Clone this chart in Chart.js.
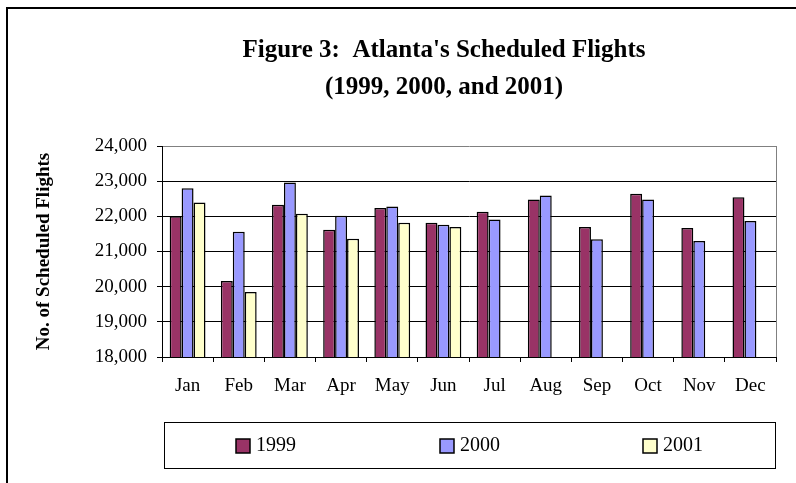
<!DOCTYPE html>
<html>
<head>
<meta charset="utf-8">
<script src="https://cdn.jsdelivr.net/npm/chart.js@4"></script>
<style>
  html, body { margin: 0; padding: 0; background: #fff; }
  canvas { display: block; }
</style>
</head>
<body>
<canvas id="flightsChart" width="796" height="483"></canvas>
<script>
// Atlanta scheduled flights per month

const months = ["Jan", "Feb", "Mar", "Apr", "May", "Jun", "Jul", "Aug", "Sep", "Oct", "Nov", "Dec"];
const flights1999 = [22000, 20160, 22330, 21620, 22240, 21820, 22130, 22480, 21700, 22640, 21670, 22540];
const flights2000 = [22800, 21560, 22960, 22020, 22280, 21760, 21910, 22590, 21350, 22480, 21300, 21870];
const flights2001 = [22390, 19850, 22070, 21360, 21820, 21700, null, null, null, null, null, null];

const seriesLabels = ["1999", "2000", "2001"];
const seriesColors = ["#993366", "#9999FF", "#FFFFCC"];

const titleLines = ["Figure 3:  Atlanta's Scheduled Flights", "(1999, 2000, and 2001)"];
const yAxisTitle = "No. of Scheduled Flights";
const yMin = 18000;
const yMax = 24000;
const yStep = 1000;

const serif = "'Liberation Serif', 'Times New Roman', serif";

// outer frame, title, plot border and the boxed legend, drawn like Excel does
const excelDecor = {
  id: "excelDecor",
  beforeDraw(chart) {
    const ctx = chart.ctx;
    ctx.save();
    ctx.fillStyle = "#fff";
    ctx.fillRect(0, 0, chart.width, chart.height);
    ctx.strokeStyle = "#000";
    ctx.lineWidth = 2;
    ctx.strokeRect(7, 8, chart.width + 40, chart.height + 40);
    ctx.restore();
  },
  afterDraw(chart) {
    const ctx = chart.ctx;
    const area = chart.chartArea;
    ctx.save();

    // right edge of the plot area
    ctx.strokeStyle = "#808080";
    ctx.lineWidth = 1;
    ctx.beginPath();
    ctx.moveTo(Math.round(area.right) + 0.5, area.top);
    ctx.lineTo(Math.round(area.right) + 0.5, area.bottom);
    ctx.stroke();

    // title
    ctx.fillStyle = "#000";
    ctx.font = "bold 25px " + serif;
    ctx.textAlign = "center";
    ctx.textBaseline = "alphabetic";
    ctx.fillText(titleLines[0], 444, 57);
    ctx.fillText(titleLines[1], 444, 94);

    // legend box
    const box = { left: 164, top: 422, width: 611, height: 46 };
    ctx.strokeStyle = "#000";
    ctx.strokeRect(box.left + 0.5, box.top + 0.5, box.width, box.height);

    ctx.font = "20px " + serif;
    ctx.textAlign = "left";
    ctx.textBaseline = "middle";
    const slot = box.width / chart.data.datasets.length;
    const midY = box.top + box.height / 2 + 1;
    chart.data.datasets.forEach((ds, i) => {
      const textW = ctx.measureText(ds.label).width;
      const itemW = 15 + 5 + textW;
      const x = Math.round(box.left + slot * (i + 0.5) - itemW / 2);
      ctx.fillStyle = ds.backgroundColor;
      ctx.fillRect(x, midY - 7, 14, 14);
      ctx.strokeStyle = "#000";
      ctx.lineWidth = 1.5;
      ctx.strokeRect(x, midY - 7, 14, 14);
      ctx.fillStyle = "#000";
      ctx.fillText(ds.label, x + 20, midY);
    });
    ctx.restore();
  }
};

const allSeries = [flights1999, flights2000, flights2001];

new Chart(document.getElementById("flightsChart"), {
  type: "bar",
  data: {
    labels: months,
    datasets: allSeries.map((values, i) => ({
      label: seriesLabels[i],
      data: values,
      backgroundColor: seriesColors[i],
      borderColor: "#000",
      borderWidth: 1.5,
      categoryPercentage: 0.7,
      barPercentage: 1.0,
    })),
  },
  options: {
    responsive: false,
    animation: false,
    devicePixelRatio: 1,
    layout: {
      padding: { top: 146, right: 20, bottom: 78, left: 20 },
    },
    plugins: {
      legend: { display: false },
      title: { display: false },
      tooltip: { enabled: false },
    },
    scales: {
      x: {
        afterFit: (scale) => { scale.height = 48; },
        grid: {
          offset: true,
          drawOnChartArea: false,
          tickLength: 5,
          color: "#000",
        },
        border: { color: "#000" },
        ticks: {
          color: "#000",
          font: { family: serif, size: 19 },
          padding: 13,
        },
      },
      y: {
        min: yMin,
        max: yMax,
        afterFit: (scale) => { scale.width = 142; },
        grid: {
          color: (ctx) => (ctx.tick && ctx.tick.value === yMax ? "#808080" : "#000"),
          tickColor: "#000",
          tickLength: 5,
        },
        border: { color: "#000" },
        ticks: {
          stepSize: yStep,
          color: "#000",
          font: { family: serif, size: 19 },
          padding: 10,
          callback: (value) => value.toLocaleString("en-US"),
        },
        title: {
          display: true,
          text: yAxisTitle,
          color: "#000",
          font: { family: serif, size: 19, weight: "bold" },
          padding: { top: 12.6, bottom: 0 },
        },
      },
    },
  },
  plugins: [excelDecor],
});
</script>
</body>
</html>
